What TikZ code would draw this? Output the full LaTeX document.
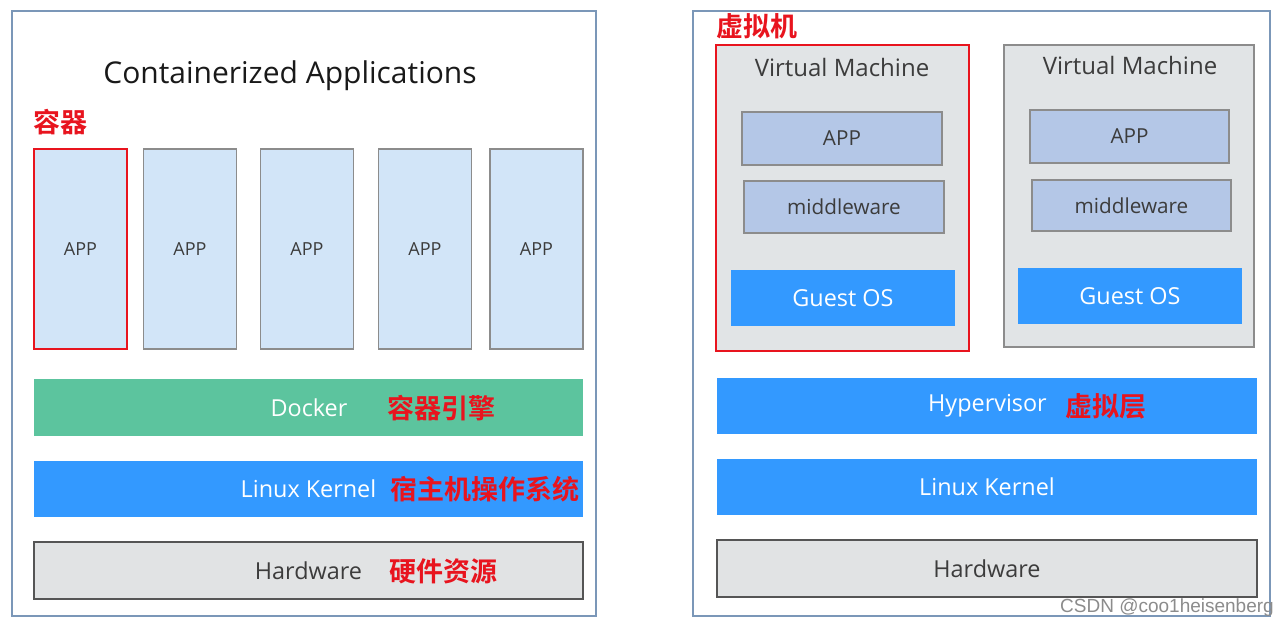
\documentclass[tikz,border=0pt]{standalone}
\usepackage{fontspec}
\setmainfont{Open Sans}
\newfontfamily\cjk{Noto Sans CJK SC}[BoldFont={* Bold}]
\definecolor{outerc}{HTML}{7B97B8}
\definecolor{appfill}{HTML}{D2E5F8}
\definecolor{appline}{HTML}{8C8C8C}
\definecolor{redc}{HTML}{E8141E}
\definecolor{dockc}{HTML}{5CC49E}
\definecolor{bluec}{HTML}{3399FF}
\definecolor{hwfill}{HTML}{E1E3E4}
\definecolor{hwline}{HTML}{555555}
\definecolor{vmfill}{HTML}{E1E4E6}
\definecolor{vmapp}{HTML}{B4C7E7}
\definecolor{txt}{HTML}{3C3C3C}
\tikzset{
  outerbox/.style={draw=outerc, line width=1.6pt, fill=white},
  appbox/.style={draw=appline, line width=1.2pt, fill=appfill, minimum width=93pt, minimum height=200pt, inner sep=0pt, text=txt, font=\fontsize{18}{18}\selectfont},
  bar/.style={minimum width=549pt, minimum height=57pt, inner sep=0pt},
  hwbar/.style={draw=hwline, line width=1.2pt, fill=hwfill},
  vmbox/.style={draw=appline, line width=1.2pt, fill=vmfill, inner sep=0pt},
  vmapp/.style={draw=appline, line width=1.2pt, fill=vmapp, minimum width=200pt, minimum height=53pt, inner sep=0pt, text=txt, font=\fontsize{20.7}{20.7}\selectfont},
  guest/.style={fill=bluec, minimum width=224pt, minimum height=56pt, inner sep=0pt, text=white, font=\fontsize{23.4}{23.4}\selectfont},
  lbl/.style={inner sep=0pt, font=\fontsize{23.4}{23.4}\selectfont},
  vmtitle/.style={inner sep=0pt, text=txt, font=\fontsize{24}{24}\selectfont},
  redlbl/.style={inner sep=0pt, text=redc, font=\cjk\bfseries\fontsize{27}{27}\selectfont},
}
\begin{document}
\begin{tikzpicture}[x=1pt, y=-1pt]
\useasboundingbox (0,0) rectangle (1288,628);
\fill[white] (0,0) rectangle (1288,628);
% ---------- left panel ----------
\node[outerbox, minimum width=584pt, minimum height=605pt] (outerL) at (304,313.5) {};
\node[inner sep=0pt, text=black!90, font=\fontsize{30}{30}\selectfont] (title) at (290,76) {Containerized Applications};
\node[redlbl] (rq) at (61,122) {容器};
\node[appbox, draw=redc, line width=2pt] (a1) at (80.5,249) {APP};
\node[appbox] (a2) at (190,249) {APP};
\node[appbox] (a3) at (307,249) {APP};
\node[appbox] (a4) at (425,249) {APP};
\node[appbox] (a5) at (536.5,249) {APP};
\node[bar, fill=dockc] (dock) at (308.5,407.5) {};
\node[lbl, text=white] (docktxt) at (309,408) {Docker};
\node[redlbl] (docklbl) at (441.5,408) {容器引擎};
\node[bar, fill=bluec, minimum height=56pt] (kernL) at (308.5,489) {};
\node[lbl, text=white] (kernLtxt) at (308.5,489) {Linux Kernel};
\node[redlbl] (kernLlbl) at (485,489) {宿主机操作系统};
\node[bar, hwbar] (hwL) at (308.5,570.5) {};
\node[lbl, text=txt] (hwLtxt) at (308.5,571) {Hardware};
\node[redlbl] (hwLlbl) at (443.5,571) {硬件资源};
% ---------- right panel ----------
\node[outerbox, minimum width=577pt, minimum height=605pt] (outerR) at (981.5,313.5) {};
\node[redlbl] (vmlbl) at (756.5,26) {虚拟机};
\node[vmbox, draw=redc, line width=2pt, minimum width=253pt, minimum height=306pt] (vm1) at (842.5,198) {};
\node[vmbox, minimum width=250pt, minimum height=302pt] (vm2) at (1129,196) {};
\node[vmtitle] (vm1t) at (842,68) {Virtual Machine};
\node[vmtitle] (vm2t) at (1130,66) {Virtual Machine};
\node[vmapp] (app1) at (842,138.5) {APP};
\node[vmapp, minimum height=52pt] (mid1) at (844,207) {middleware};
\node[guest] (g1) at (843,298) {Guest OS};
\node[vmapp, minimum width=199pt] (app2) at (1129.5,136.5) {APP};
\node[vmapp, minimum width=199pt, minimum height=51pt] (mid2) at (1131.5,205.5) {middleware};
\node[guest] (g2) at (1130,296) {Guest OS};
\node[bar, fill=bluec, minimum width=540pt, minimum height=56pt] (hyp) at (987,406) {};
\node[lbl, text=white] (hyptxt) at (987.5,406) {Hypervisor};
\node[redlbl] (hyplbl) at (1105.5,406) {虚拟层};
\node[bar, fill=bluec, minimum width=540pt, minimum height=56pt] (kernR) at (987,487) {};
\node[lbl, text=white] (kernRtxt) at (987,487) {Linux Kernel};
\node[bar, hwbar, minimum width=540pt] (hwR) at (987,568.5) {};
\node[lbl, text=txt] (hwRtxt) at (987,569) {Hardware};
% watermark
\node[inner sep=0pt, text=black!45, font=\fontspec{Liberation Sans}\fontsize{19}{19}\selectfont] (wm) at (1167,608) {CSDN @coo1heisenberg};
\end{tikzpicture}
\end{document}
